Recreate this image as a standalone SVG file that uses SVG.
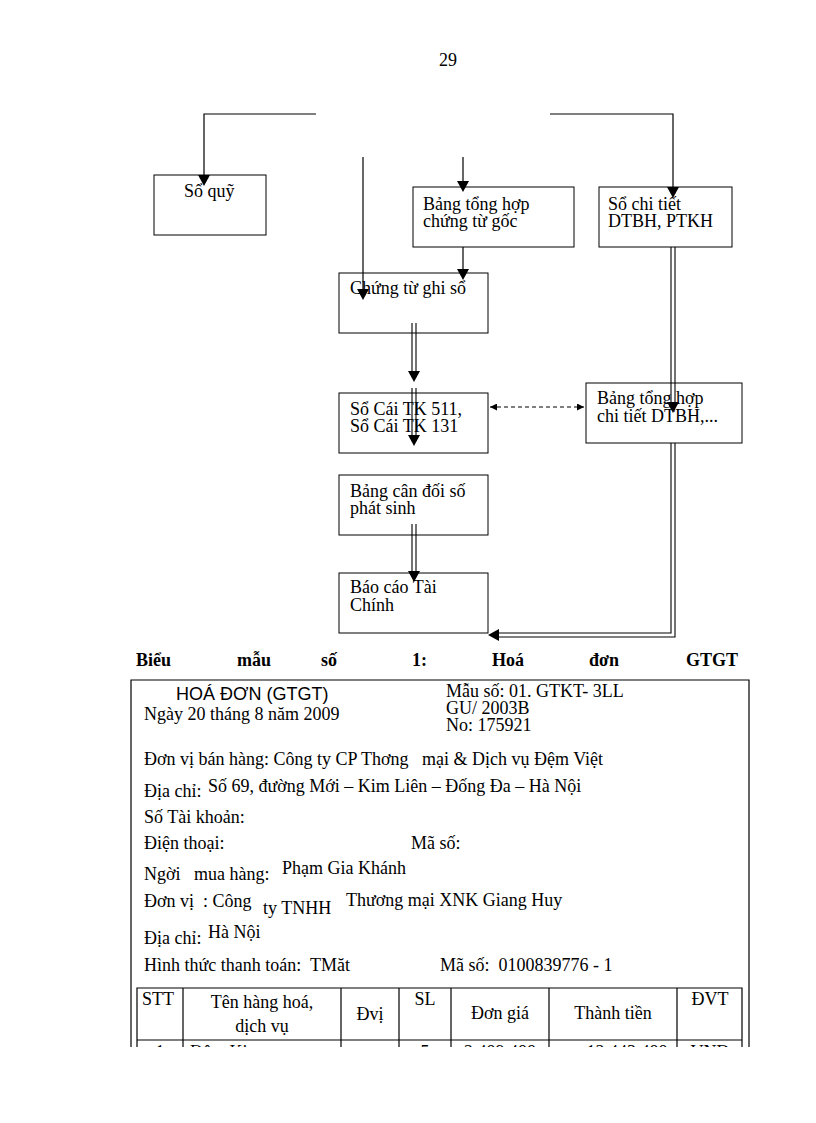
<svg xmlns="http://www.w3.org/2000/svg" width="816" height="1123" viewBox="0 0 816 1123">
<style>
text{font-family:"Liberation Serif","Times New Roman",serif;font-size:18px;fill:#000}
.box{fill:#fff;stroke:#000;stroke-width:1}
.ln{fill:none;stroke:#000;stroke-width:1.2}
.dl{fill:none;stroke:#000;stroke-width:1.1}
.dash{fill:none;stroke:#000;stroke-width:1;stroke-dasharray:4 3}
.sans{font-family:"Liberation Sans",Arial,sans-serif}
.b{font-weight:bold}
.m{text-anchor:middle}
.tb{fill:none;stroke:#000;stroke-width:1.2}
</style>
<defs>
<marker id="ah" viewBox="0 0 10 10" refX="10" refY="5" markerWidth="8" markerHeight="8" markerUnits="userSpaceOnUse" orient="auto"><path d="M0,0 L10,5 L0,10 z" fill="#000"/></marker>
<marker id="ahs" viewBox="0 0 10 10" refX="10" refY="5" markerWidth="7" markerHeight="7" markerUnits="userSpaceOnUse" orient="auto-start-reverse"><path d="M0,0 L10,5 L0,10 z" fill="#000"/></marker>
<path id="tri-d" d="M-6,-11 L6,-11 L0,0 z" fill="#000"/>
<clipPath id="cut"><rect x="0" y="0" width="816" height="1047"/></clipPath>
</defs>
<rect width="816" height="1123" fill="#fff"/>
<text x="448" y="66" class="m">29</text>

<g id="n-soquy"><rect class="box" x="154" y="175" width="112" height="60"/><text x="184" y="197">Sổ quỹ</text></g>
<g id="n-bangtonghop"><rect class="box" x="413" y="187" width="161" height="60"/><text x="423" y="210">Bảng tổng hợp</text><text x="423" y="227">chứng từ gốc</text></g>
<g id="n-sochitiet"><rect class="box" x="599" y="187" width="133" height="60"/><text x="608" y="210">Sổ chi tiết</text><text x="608" y="227">DTBH, PTKH</text></g>
<g id="n-chungtu"><rect class="box" x="339" y="273" width="149" height="60"/><text x="350" y="294">Chứng từ ghi sổ</text></g>
<g id="n-socai"><rect class="box" x="339" y="393" width="149" height="60"/><text x="350" y="415">Sổ Cái TK 511,</text><text x="350" y="432">Sổ Cái TK 131</text></g>
<g id="n-bangchitiet"><rect class="box" x="586" y="383" width="156" height="60"/><text x="597" y="404">Bảng tổng hợp</text><text x="597" y="422">chi tiết DTBH,...</text></g>
<g id="n-cando"><rect class="box" x="339" y="475" width="149" height="60"/><text x="350" y="497">Bảng cân đối số</text><text x="350" y="514">phát sinh</text></g>
<g id="n-baocao"><rect class="box" x="339" y="573" width="149" height="60"/><text x="350" y="593">Báo cáo  Tài</text><text x="350" y="611">Chính</text></g>

<g id="connectors">
<path class="ln" d="M316,114 H204 V176"/><use href="#tri-d" x="204" y="186"/>
<path class="ln" d="M550,114 H673 V188"/><use href="#tri-d" x="673" y="198"/>
<path class="ln" d="M363,157 V290"/><use href="#tri-d" x="363" y="300"/>
<path class="ln" d="M463,157 V182"/><use href="#tri-d" x="463" y="192"/>
<path class="ln" d="M463,247 V270"/><use href="#tri-d" x="463" y="280"/>
<path class="dl" d="M412,323 V372 M416,323 V372"/><use href="#tri-d" x="414" y="382"/>
<path class="dl" d="M412,388 V436 M416,388 V436"/><use href="#tri-d" x="414" y="446"/>
<path class="dl" d="M412,524 V572 M416,524 V572"/><use href="#tri-d" x="414" y="582"/>
<path class="dl" d="M671,247 V403 M675,247 V403"/><use href="#tri-d" x="673" y="413"/>
<path class="dl" d="M671,443 V633 H498 M675,443 V637 H498"/><path d="M488,635 L499,629 L499,641 z" fill="#000"/>
<path class="dash" d="M490,407 H584" marker-start="url(#ahs)" marker-end="url(#ahs)"/>
</g>

<g id="title" class="b">
<text x="136" y="666" class="b">Biểu</text>
<text x="237" y="666" class="b">mẫu</text>
<text x="321" y="666" class="b">số</text>
<text x="412" y="666" class="b">1:</text>
<text x="492" y="666" class="b">Hoá</text>
<text x="589" y="666" class="b">đơn</text>
<text x="738" y="666" class="b" text-anchor="end">GTGT</text>
</g>

<g id="invoice" clip-path="url(#cut)">
<path class="tb" d="M131,1060 V680 H749 V1060"/>
<text x="176" y="700" class="sans">HOÁ ĐƠN (GTGT)</text>
<text x="144" y="720">Ngày 20 tháng 8 năm 2009</text>
<text x="446" y="697">Mẫu số: 01. GTKT- 3LL</text>
<text x="446" y="714">GU/ 2003B</text>
<text x="446" y="731">No: 175921</text>
<text x="144" y="765" xml:space="preserve">Đơn vị bán hàng: Công ty CP Thơng   mại &amp; Dịch vụ Đệm Việt</text>
<text x="144" y="797">Địa chỉ:</text>
<text x="208" y="792">Số 69, đường Mới – Kim Liên – Đống Đa – Hà Nội</text>
<text x="144" y="823">Số Tài khoản:</text>
<text x="144" y="849">Điện thoại:</text>
<text x="411" y="849">Mã số:</text>
<text x="144" y="880" xml:space="preserve">Ngời   mua hàng:</text>
<text x="282" y="874">Phạm Gia Khánh</text>
<text x="144" y="907" xml:space="preserve">Đơn vị  : Công</text>
<text x="263" y="914">ty TNHH</text>
<text x="346" y="906">Thương mại XNK Giang Huy</text>
<text x="144" y="944">Địa chỉ:</text>
<text x="208" y="938">Hà Nội</text>
<text x="144" y="971" xml:space="preserve">Hình thức thanh toán:  TMăt</text>
<text x="440" y="971" xml:space="preserve">Mã số:  0100839776 - 1</text>

<g id="table">
<path class="tb" d="M137,1060 V988 H742 V1060 M137,1040 H742 M183,988 V1060 M341,988 V1060 M399,988 V1060 M451,988 V1060 M549,988 V1060 M677,988 V1060"/>
<text x="142" y="1005">STT</text>
<text x="262" y="1008" class="m">Tên hàng hoá,</text>
<text x="262" y="1032" class="m">dịch vụ</text>
<text x="370" y="1020" class="m">Đvị</text>
<text x="425" y="1005" class="m">SL</text>
<text x="500" y="1019" class="m">Đơn giá</text>
<text x="613" y="1019" class="m">Thành tiền</text>
<text x="710" y="1005" class="m">ĐVT</text>
<text x="160" y="1058" class="m">1</text>
<text x="190" y="1058">Đệm Kim</text>
<text x="370" y="1058" class="m">c</text>
<text x="425" y="1058" class="m">5</text>
<text x="500" y="1058" class="m">2.489.488</text>
<text x="627" y="1058" class="m">12.443.488</text>
<text x="710" y="1058" class="m">VND</text>
</g>
</g>
</svg>
